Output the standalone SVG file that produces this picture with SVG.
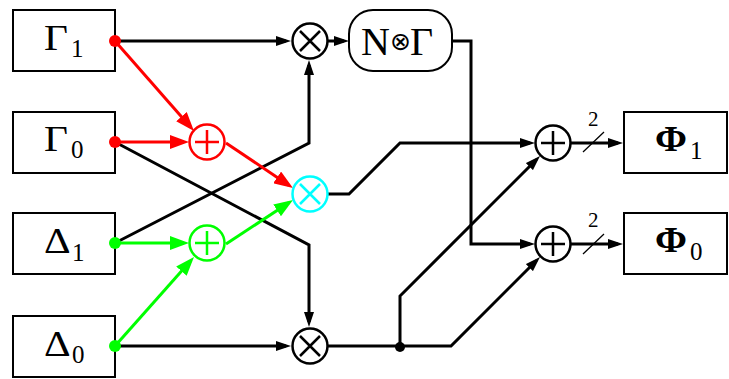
<svg xmlns="http://www.w3.org/2000/svg" width="729" height="379" viewBox="0 0 729 379">
<style>
.box{fill:#fff;stroke:#000;stroke-width:2}
.ln{fill:none;stroke:#000;stroke-width:3;stroke-linejoin:miter}
.red{fill:none;stroke:#f00;stroke-width:3}
.grn{fill:none;stroke:#0f0;stroke-width:3}
.op{fill:#fff;stroke:currentColor;stroke-width:2.5}
.big{font-family:"Liberation Serif","Times New Roman",serif;font-size:34px;fill:#000}
.sub{font-family:"Liberation Serif","Times New Roman",serif;font-size:25px;fill:#000}
.two{font-family:"Liberation Serif","Times New Roman",serif;font-size:21px;fill:#000}
.slash{stroke:#000;stroke-width:1.3}
</style>
<defs>
<marker id="ab" markerUnits="userSpaceOnUse" markerWidth="15" markerHeight="10" refX="10" refY="5" orient="auto"><path d="M0,0 L15,5 L0,10 z" fill="#000"/></marker>
<marker id="ar" markerUnits="userSpaceOnUse" markerWidth="19" markerHeight="14" refX="14" refY="7" orient="auto"><path d="M0,0 L19,7 L0,14 z" fill="#f00"/></marker>
<marker id="ag" markerUnits="userSpaceOnUse" markerWidth="19" markerHeight="14" refX="14" refY="7" orient="auto"><path d="M0,0 L19,7 L0,14 z" fill="#0f0"/></marker>
<g id="plus"><circle class="op" r="17.5"/><path d="M-12,0 H12 M0,-12 V12" stroke="currentColor" stroke-width="2.5"/></g>
<g id="times"><circle class="op" r="17.5"/><path d="M-10,-10 L10,10 M10,-10 L-10,10" stroke="currentColor" stroke-width="2.5"/></g>
</defs>

<g id="connectors">
<path class="ln" d="M115,41 H286" marker-end="url(#ab)"/>
<path class="ln" d="M328,41 H344" marker-end="url(#ab)"/>
<path class="ln" d="M452,41 H471 V244 H530" marker-end="url(#ab)"/>
<path class="ln" d="M115,243 L309,143 V65" marker-end="url(#ab)"/>
<path class="ln" d="M115,142 L309,245 V322" marker-end="url(#ab)"/>
<path class="ln" d="M115,346 H286" marker-end="url(#ab)"/>
<path class="ln" d="M328,346 H451 L536.5,260.5" marker-end="url(#ab)"/>
<path class="ln" d="M400,346 V296 L536.5,159.5" marker-end="url(#ab)"/>
<path class="ln" d="M328,194 H349 L400,143 H530" marker-end="url(#ab)"/>
<path class="ln" d="M571,143 H618" marker-end="url(#ab)"/>
<path class="ln" d="M571,244 H618" marker-end="url(#ab)"/>
<path class="slash" d="M583,152 L604,132 M583,254 L604,234"/>
<text class="two" x="588" y="126">2</text>
<text class="two" x="588" y="227">2</text>
<circle cx="400" cy="347" r="5" fill="#000"/>
<path class="red" d="M115,41 L190.7,127.2" marker-end="url(#ar)"/>
<path class="red" d="M115,142 H184" marker-end="url(#ar)"/>
<path class="red" d="M226,143 L288.8,185.2" marker-end="url(#ar)"/>
<path class="grn" d="M115,243 H184" marker-end="url(#ag)"/>
<path class="grn" d="M115,346 L190.7,260.7" marker-end="url(#ag)"/>
<path class="grn" d="M226,244 L288.8,202.7" marker-end="url(#ag)"/>
</g>

<g id="G1"><rect class="box" x="13" y="10" width="102" height="61"/><text class="big" transform="translate(44,50) scale(1.15,1)" style="font-size:36px">Γ</text><text class="sub" x="71" y="57">1</text><circle cx="115" cy="41" r="6" fill="#f00"/></g>
<g id="G0"><rect class="box" x="13" y="112" width="102" height="61"/><text class="big" transform="translate(44,151) scale(1.15,1)" style="font-size:36px">Γ</text><text class="sub" x="71" y="158">0</text><circle cx="115" cy="142" r="6" fill="#f00"/></g>
<g id="D1"><rect class="box" x="13" y="213" width="102" height="61"/><text class="big" transform="translate(44,253) scale(1.15,1)" style="font-size:36px">Δ</text><text class="sub" x="72" y="261">1</text><circle cx="115" cy="243" r="6" fill="#0f0"/></g>
<g id="D0"><rect class="box" x="13" y="316" width="102" height="61"/><text class="big" transform="translate(44,356) scale(1.15,1)" style="font-size:36px">Δ</text><text class="sub" x="72" y="363">0</text><circle cx="115" cy="346" r="6" fill="#0f0"/></g>

<g id="NG"><rect class="box" x="349" y="10" width="103" height="61" rx="24" ry="24"/><text class="big" style="font-size:40px" y="55"><tspan x="361">N</tspan><tspan x="390" dy="-5" style="font-family:'DejaVu Sans',sans-serif;font-size:25px">⊗</tspan><tspan x="410" dy="5">Γ</tspan></text></g>

<g id="F1"><rect class="box" x="624" y="112" width="103" height="61"/><text class="big" transform="translate(655,151) scale(1.1,1)" style="font-size:35px;font-weight:bold">Φ</text><text class="sub" x="690" y="159">1</text></g>
<g id="F0"><rect class="box" x="624" y="213" width="103" height="61"/><text class="big" transform="translate(655,252) scale(1.1,1)" style="font-size:35px;font-weight:bold">Φ</text><text class="sub" x="690" y="260">0</text></g>

<g id="mulTop" style="color:#000"><use href="#times" x="310" y="41"/></g>
<g id="mulCyan" style="color:#0ff"><use href="#times" x="310" y="194"/></g>
<g id="mulBot" style="color:#000"><use href="#times" x="310" y="346"/></g>
<g id="addRed" style="color:#f00"><use href="#plus" x="207" y="142"/></g>
<g id="addGreen" style="color:#0f0"><use href="#plus" x="207" y="243"/></g>
<g id="addTop" style="color:#000"><use href="#plus" x="553" y="143"/></g>
<g id="addBot" style="color:#000"><use href="#plus" x="553" y="244"/></g>
</svg>
